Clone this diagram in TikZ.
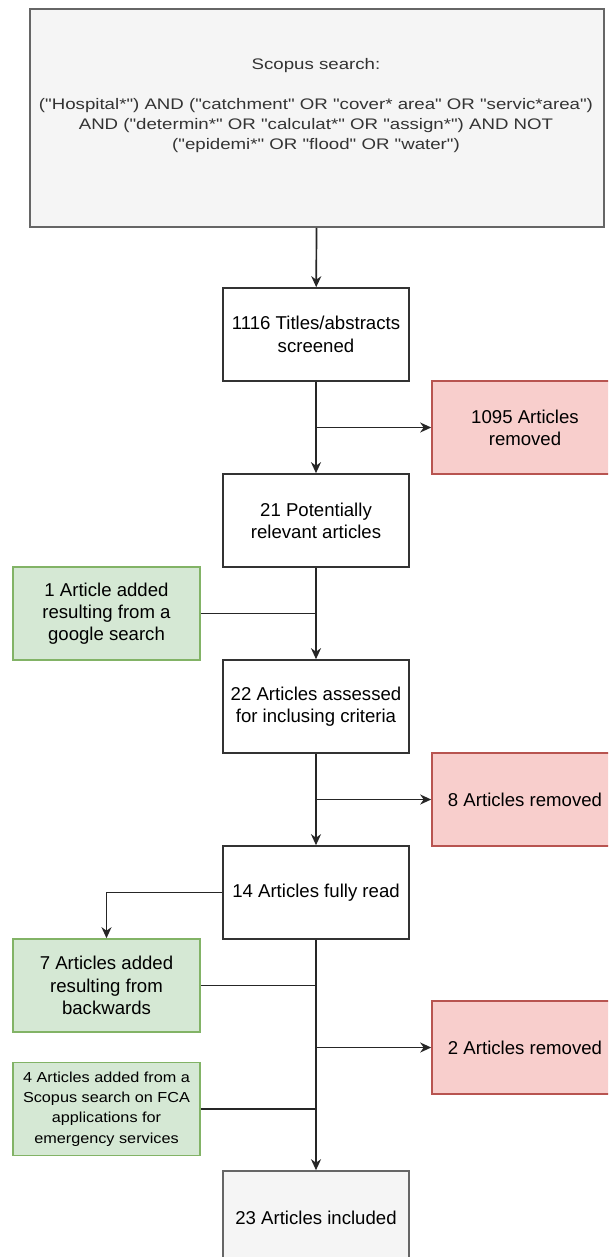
\documentclass[tikz,border=0pt]{standalone}
\usepackage{fontspec}
\setmainfont{Liberation Sans}
\newfontfamily\widefont[FakeStretch=1.22]{Liberation Sans}
\newfontfamily\smallfont[FakeStretch=1.12]{Liberation Sans}
\usetikzlibrary{arrows.meta}
\definecolor{grayfill}{HTML}{F5F5F5}
\definecolor{graydraw}{HTML}{666666}
\definecolor{greenfill}{HTML}{D5E8D4}
\definecolor{greendraw}{HTML}{82B366}
\definecolor{redfill}{HTML}{F8CECC}
\definecolor{reddraw}{HTML}{B85450}
\definecolor{toptxt}{HTML}{333333}
\tikzset{
  box/.style={draw=black!80, fill=white, line width=1.6pt, minimum width=186pt, minimum height=93pt,
    inner sep=0pt, align=center, font=\fontsize{18.6}{22.3}\selectfont},
  greybox/.style={box, draw=graydraw, fill=grayfill, text=toptxt},
  greenbox/.style={box, draw=greendraw, fill=greenfill, minimum width=187pt},
  redbox/.style={box, draw=reddraw, fill=redfill},
  conn/.style={line width=1.7pt, draw=black!85},
  arr/.style={conn, -{Stealth[length=11pt,width=10pt,inset=3.5pt]}},
}
\begin{document}
\begin{tikzpicture}[x=1pt,y=-1pt]
\useasboundingbox (0,0) rectangle (608,1257);
\clip (0,0) rectangle (608,1257);
% nodes
\node[greybox, minimum width=574pt, minimum height=218pt] (top) at (317,118) {};
\node[align=center, text=toptxt, inner sep=0pt,
  font=\widefont\fontsize{15.3}{20}\selectfont] (toplbl) at (316,106)
  {Scopus search:\\[20pt]
   ("Hospital*") AND ("catchment" OR "cover* area" OR "servic*area")\\
   AND ("determin*" OR "calculat*" OR "assign*") AND NOT\\
   ("epidemi*" OR "flood" OR "water")};
\node[box] (n1116) at (316,334.5) {1116 Titles/abstracts\\screened};
\node[redbox] (r1095) at (525,427.5) {1095 Articles\\removed};
\node[box] (n21) at (316,520.5) {21 Potentially\\relevant articles};
\node[greenbox] (g1) at (106.5,613.5) {1 Article added\\resulting from a\\google search};
\node[box] (n22) at (316,706.5) {22 Articles assessed\\for inclusing criteria};
\node[redbox] (r8) at (525,799.5) {8 Articles removed};
\node[box] (n14) at (316,892.5) {14 Articles fully read};
\node[greenbox] (g7) at (106.5,985.5) {7 Articles added\\resulting from\\backwards};
\node[redbox] (r2) at (525,1047.5) {2 Articles removed};
\node[greenbox, font=\smallfont\fontsize{14.5}{20.3}\selectfont] (g4) at (106.5,1109)
  {4 Articles added from a\\Scopus search on FCA\\applications for\\emergency services};
\node[greybox, text=black] (n23) at (316,1217.5) {23 Articles included};
% connectors
\draw[arr] (top) -- (n1116);
\draw[arr] (n1116) -- (n21);
\draw[arr] (n1116.south |- r1095.west) -- (r1095.west);
\draw[conn] (g1.east) -- (g1.east -| n21.south);
\draw[arr] (n21) -- (n22);
\draw[arr] (n22) -- (n14);
\draw[arr] (n22.south |- r8.west) -- (r8.west);
\draw[arr] (n14.west) -| (g7.north);
\draw[arr] (n14) -- (n23);
\draw[conn] (g7.east) -- (g7.east -| n14.south);
\draw[arr] (n14.south |- r2.west) -- (r2.west);
\draw[conn] (g4.east) -- (g4.east -| n14.south);
\end{tikzpicture}
\end{document}
